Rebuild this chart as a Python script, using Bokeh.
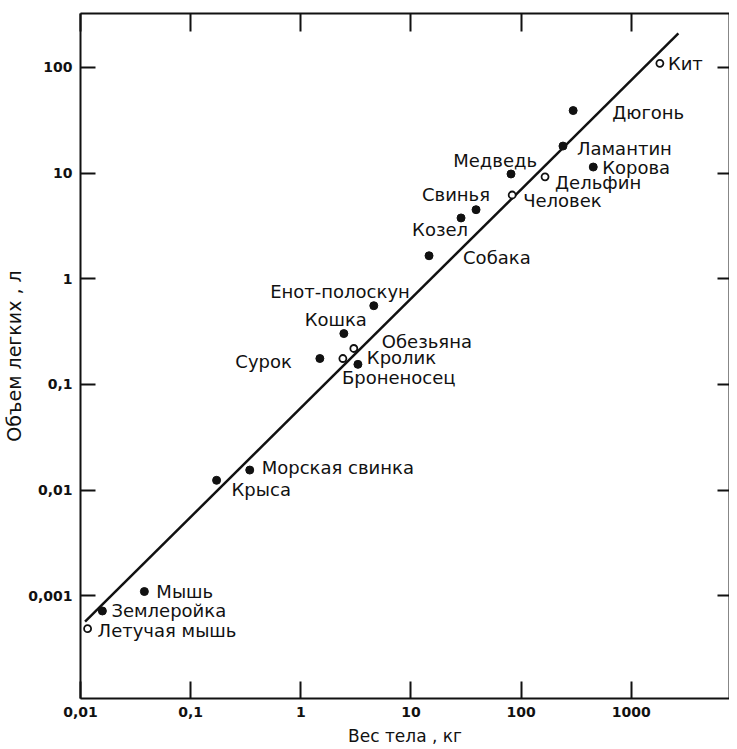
from bokeh.plotting import figure
from bokeh.models import (ColumnDataSource, LogAxis, FixedTicker,
                          CustomJSTickFormatter, Range1d)
from bokeh.core.properties import value
from bokeh.embed import file_html
from bokeh.resources import INLINE

# ---- data ----
names = ["Кит", "Дюгонь", "Ламантин", "Корова", "Дельфин", "Медведь",
         "Человек", "Свинья", "Козел", "Собака", "Енот-полоскун", "Кошка",
         "Обезьяна", "Кролик", "Броненосец", "Сурок", "Морская свинка",
         "Крыса", "Мышь", "Землеройка", "Летучая мышь"]
mass_kg = [1820, 297, 240, 452, 165, 81,
           83, 39, 28.5, 14.6, 4.6, 2.46,
           3.03, 2.41, 3.3, 1.49, 0.344,
           0.172, 0.038, 0.0158, 0.0116]
lung_l = [109, 39, 18, 11.4, 9.2, 9.8,
          6.2, 4.5, 3.76, 1.65, 0.556, 0.303,
          0.219, 0.176, 0.155, 0.176, 0.0155,
          0.0124, 0.0011, 0.00072, 0.00049]
hollow = [True, False, False, False, True, False,
          True, False, False, False, False, False,
          True, True, False, False, False,
          False, False, False, True]

# regression line end points
fit_mass = [0.011, 2680]
fit_lung = [0.00057, 209]

x_ticks = [0.01, 0.1, 1, 10, 100, 1000]
y_ticks = [0.001, 0.01, 0.1, 1, 10, 100]

x_title = "Вес тела , кг"
y_title = "Объем легких , л"

# ---- label placement (pixels) ----
label_dx = [8, 39, 14, 9, 10, 26,
            11, 14, 7, 34, 36, 23,
            28, 24, -16, -28, 12,
            15, 12, 9, 10]
label_dy = [0, 2, 2, 0, 6, -13,
            6, -15, 12, 2, -14, -14,
            -7, -1, 13, 3, -3,
            9, 0, 0, 2]
label_align = ["left", "left", "left", "left", "left", "right",
               "left", "right", "right", "left", "right", "right",
               "left", "left", "left", "right", "left",
               "left", "left", "left", "left"]

FONT = "DejaVu Sans"

p = figure(width=729, height=748, x_axis_type="log", y_axis_type="log",
           x_range=Range1d(0.01, 7800), y_range=Range1d(1.07e-4, 323),
           output_backend="svg", toolbar_location=None,
           min_border_left=73, min_border_right=0,
           min_border_top=13, min_border_bottom=48)
p.grid.visible = False
p.outline_line_color = None
p.background_fill_color = "white"
p.border_fill_color = "white"

fmt = CustomJSTickFormatter(code="""
const e = Math.round(Math.log10(tick));
if (e >= 0) return String(Math.round(Math.pow(10, e)));
return "0," + "0".repeat(-e - 1) + "1";
""")


def style_axis(ax, ticks, tick_in, show_labels):
    ax.ticker = FixedTicker(ticks=ticks, minor_ticks=[])
    ax.formatter = fmt
    ax.axis_line_color = "#111111"
    ax.axis_line_width = 2
    ax.major_tick_line_color = "#111111"
    ax.major_tick_line_width = 2
    ax.major_tick_in = tick_in
    ax.major_tick_out = 0
    ax.minor_tick_line_color = None
    if show_labels:
        ax.major_label_text_font = FONT
        ax.major_label_text_font_style = "bold"
        ax.major_label_text_font_size = "14px"
        ax.major_label_text_color = "#111111"
        ax.major_label_standoff = 8
    else:
        ax.major_label_text_color = None
        ax.major_label_standoff = 0


style_axis(p.xaxis[0], x_ticks, 17, True)
style_axis(p.yaxis[0], y_ticks, 15, True)
p.xaxis[0].axis_label = x_title
p.yaxis[0].axis_label = y_title
for ax in (p.xaxis[0], p.yaxis[0]):
    ax.axis_label_text_font = FONT
    ax.axis_label_text_font_style = "normal"
    ax.axis_label_text_color = "#111111"
p.xaxis[0].axis_label_text_font_size = "17px"
p.yaxis[0].axis_label_text_font_size = "19px"
p.xaxis[0].axis_label_standoff = 6
p.yaxis[0].axis_label_standoff = 0

top = LogAxis()
style_axis(top, x_ticks, 18, False)
p.add_layout(top, "above")
right = LogAxis()
style_axis(right, y_ticks, 12, False)
p.add_layout(right, "right")

# regression line
p.line(fit_mass, fit_lung, line_color="#111111", line_width=2.5)

# points
filled_src = ColumnDataSource(dict(
    x=[m for m, h in zip(mass_kg, hollow) if not h],
    y=[v for v, h in zip(lung_l, hollow) if not h]))
hollow_src = ColumnDataSource(dict(
    x=[m for m, h in zip(mass_kg, hollow) if h],
    y=[v for v, h in zip(lung_l, hollow) if h]))
p.scatter("x", "y", source=filled_src, marker="circle", size=8,
          fill_color="#111111", line_color="#111111")
p.scatter("x", "y", source=hollow_src, marker="circle", size=7,
          fill_color="white", line_color="#111111", line_width=1.8)

# labels
for align in ("left", "right"):
    idx = [i for i, a in enumerate(label_align) if a == align]
    src = ColumnDataSource(dict(
        x=[mass_kg[i] for i in idx], y=[lung_l[i] for i in idx],
        t=[names[i] for i in idx],
        dx=[label_dx[i] for i in idx], dy=[label_dy[i] for i in idx]))
    p.text("x", "y", text="t", source=src, x_offset="dx", y_offset="dy",
           text_align=align, text_baseline="middle",
           text_font=value(FONT), text_font_size="18px",
           text_color="#111111")

open("out.html", "w").write(file_html(p, INLINE))
